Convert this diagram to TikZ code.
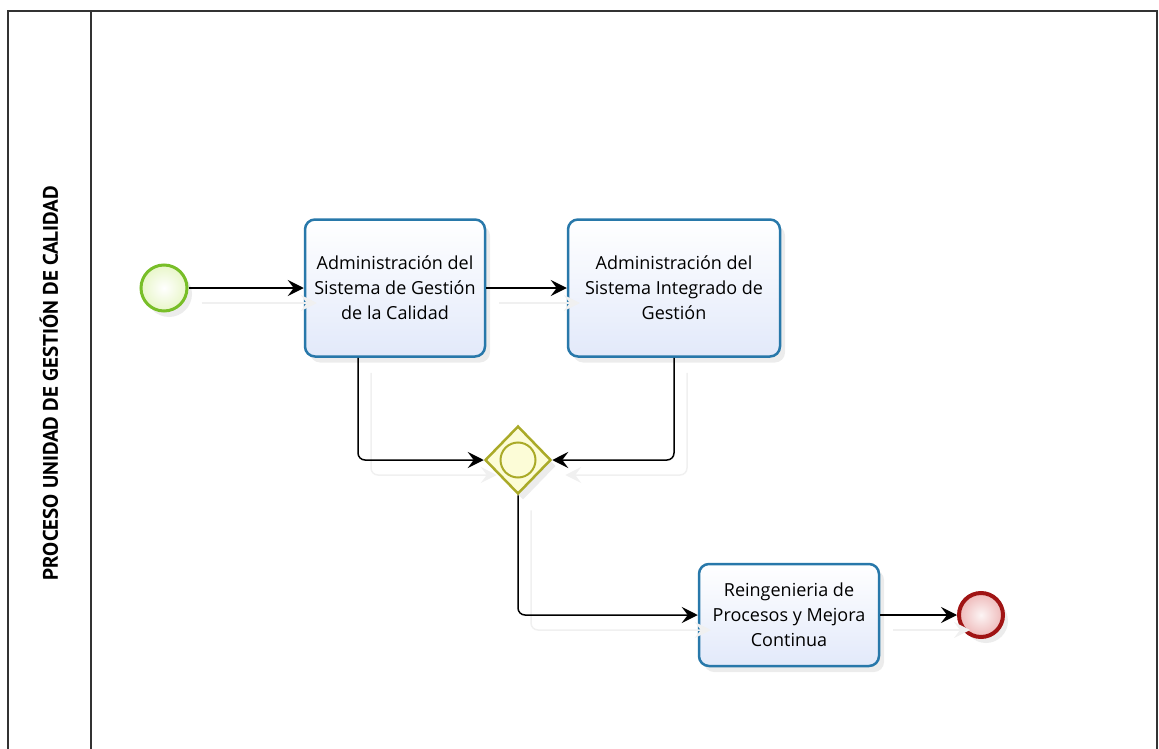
\documentclass[tikz,border=0pt]{standalone}
\usepackage{fontspec}
\setmainfont{Open Sans}
\newfontfamily\lanefont{PT Sans}
\usetikzlibrary{arrows.meta,shapes.geometric,shadows}

\definecolor{taskline}{RGB}{40,120,170}
\definecolor{taskfill}{RGB}{226,233,250}
\definecolor{startline}{RGB}{120,190,40}
\definecolor{startfill}{RGB}{232,246,200}
\definecolor{endline}{RGB}{160,20,20}
\definecolor{endfill}{RGB}{238,185,185}
\definecolor{gwline}{RGB}{170,170,40}
\definecolor{gwfill}{RGB}{252,252,215}

\begin{document}
\begin{tikzpicture}[x=1pt,y=-1pt,>={Stealth[length=16pt,width=16pt,inset=6pt]}]
    \tikzstyle{task} = [rectangle,rounded corners=10pt,draw=taskline,line width=2.5pt,
        top color=white,bottom color=taskfill,minimum width=180pt,minimum height=137pt,
        align=center,font=\fontsize{18}{25}\selectfont,
        drop shadow={opacity=0.15,shadow xshift=5pt,shadow yshift=-6pt}];
    \tikzstyle{flow} = [->,line width=1.5pt,rounded corners=7pt];
    \tikzstyle{flowshade} = [->,line width=1.5pt,rounded corners=7pt,draw=black!6];
    \useasboundingbox (0,0) rectangle (1159,749);

    \draw[line width=2pt,draw=black!80] (8,749) -- (8,11) -- (1157,11) -- (1157,749);
    \draw[line width=2pt,draw=black!80] (91,11) -- (91,749);
    \node[rotate=90,font=\lanefont\bfseries\fontsize{21}{24}\selectfont] (lane) at (49,383)
        {PROCESO UNIDAD DE GESTIÓN DE CALIDAD};

    \node[circle,draw=startline,line width=3pt,inner color=white,outer color=startfill,
        minimum size=46pt,drop shadow={opacity=0.15,shadow xshift=5pt,shadow yshift=-6pt}]
        (start) at (164,288) {};
    \node[task] (sgc) at (395,288) {Administración del\\Sistema de Gestión\\de la Calidad};
    \node[task,minimum width=212pt] (sig) at (674,288) {Administración del\\Sistema Integrado de\\Gestión};
    \node[diamond,draw=gwline,line width=2.5pt,fill=gwfill,minimum width=66pt,minimum height=68pt,
        inner sep=0pt,drop shadow={opacity=0.15,shadow xshift=5pt,shadow yshift=-6pt}]
        (gw) at (518,460) {};
    \node[circle,draw=gwline,line width=2pt,fill=gwfill,minimum size=35pt,inner sep=0pt]
        (gwin) at (gw.center) {};
    \node[task,minimum height=102pt] (rpm) at (789,615) {Reingenieria de\\Procesos y Mejora\\Continua};
    \node[circle,draw=endline,line width=4pt,inner color=white!85!endfill,outer color=endfill,
        minimum size=44pt,drop shadow={opacity=0.15,shadow xshift=5pt,shadow yshift=-6pt}]
        (end) at (981,615) {};

    \begin{scope}[transform canvas={shift={(13pt,-15pt)}}]
        \draw[flowshade] (start) -- (sgc);
        \draw[flowshade] (sgc) -- (sig);
        \draw[flowshade] ([xshift=-37pt]sgc.south) |- (gw.west);
        \draw[flowshade] (sig.south) |- (gw.east);
        \draw[flowshade] (gw.south) |- (rpm.west);
        \draw[flowshade] (rpm) -- (end);
    \end{scope}

    \draw[flow] (start) -- (sgc);
    \draw[flow] (sgc) -- (sig);
    \draw[flow] ([xshift=-37pt]sgc.south) |- (gw.west);
    \draw[flow] (sig.south) |- (gw.east);
    \draw[flow] (gw.south) |- (rpm.west);
    \draw[flow] (rpm) -- (end);
\end{tikzpicture}
\end{document}
